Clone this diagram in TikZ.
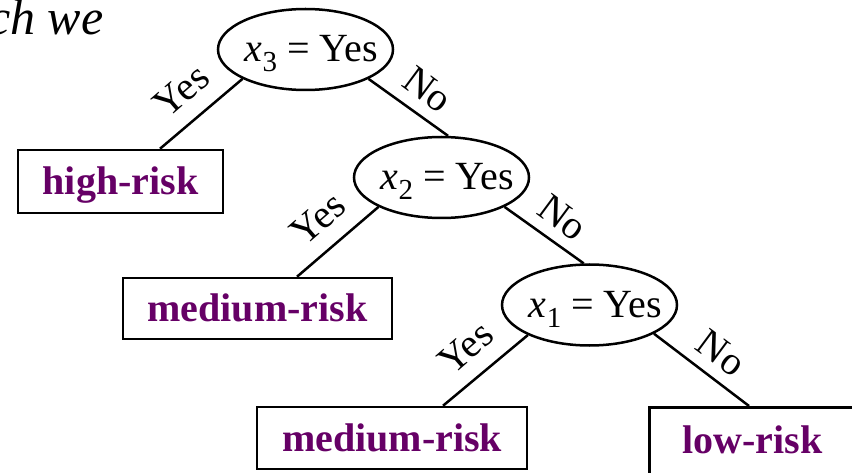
\documentclass[tikz,border=0pt]{standalone}
\usepackage{fontspec}
\setmainfont{Liberation Serif}
\usetikzlibrary{shapes.geometric}
\definecolor{riskpurple}{RGB}{102,0,102}
\newcommand\xsub[1]{\makebox[110pt][c]{\hspace*{12pt}\textit{x}\raisebox{-10pt}{\fontsize{29}{29}\selectfont #1} = Yes}}
\begin{document}
\begin{tikzpicture}[x=1pt,y=-1pt,
  test/.style={ellipse, draw, line width=2.5pt, minimum width=175pt, minimum height=81pt, inner sep=0pt, text height=24pt, text depth=0pt, font=\fontsize{40}{48}\selectfont},
  leaf/.style={rectangle, draw, line width=2.5pt, inner sep=0pt, text height=27pt, text depth=0pt, text=riskpurple, font=\fontsize{40}{48}\selectfont\bfseries},
  edge/.style={line width=2.5pt},
  yeslbl/.style={rotate=41, anchor=south, inner sep=0pt, outer sep=17pt, font=\fontsize{40}{48}\selectfont},
  nolbl/.style={rotate=-36.5, anchor=south, inner sep=0pt, outer sep=12pt, font=\fontsize{40}{48}\selectfont},
]
\useasboundingbox (0,0) rectangle (852,473);
\clip (0,0) rectangle (852,473);

\node[anchor=base west, inner sep=0pt, font=\fontsize{50}{60}\selectfont\itshape] (cw) at (-12,35) {ch we};

\node[test] (t3) at (305.5,49.5) {\xsub{3}};
\node[test] (t2) at (441.5,177.5) {\xsub{2}};
\node[test] (t1) at (589.5,305) {\xsub{1}};

\node[leaf, minimum width=205pt, minimum height=63pt] (hr) at (120.5,181.5) {high-risk};
\node[leaf, minimum width=269pt, minimum height=61pt] (mr1) at (257.5,308.5) {medium-risk};
\node[leaf, minimum width=270pt, minimum height=62pt] (mr2) at (392,438) {medium-risk};
\node[leaf, anchor=north west, minimum width=206pt, inner ysep=10pt, text height=36pt, text depth=28pt] (lr) at (648,406) {low-risk};

\draw[edge] (t3.205) -- node[yeslbl, pos=0.5] {Yes} ([xshift=39.5pt]hr.north);
\draw[edge] (t3.335) -- node[nolbl, pos=0.55] {No} (t2.81);
\draw[edge] (t2.205) -- node[yeslbl, pos=0.5] {Yes} ([xshift=39.5pt]mr1.north);
\draw[edge] (t2.335) -- node[nolbl, pos=0.55] {No} (t1.98);
\draw[edge] (t1.206) -- node[yeslbl, pos=0.5] {Yes} ([xshift=51pt]mr2.north);
\draw[edge] (t1.336) -- node[nolbl, pos=0.55] {No} ([xshift=101pt]lr.north west);
\end{tikzpicture}
\end{document}
